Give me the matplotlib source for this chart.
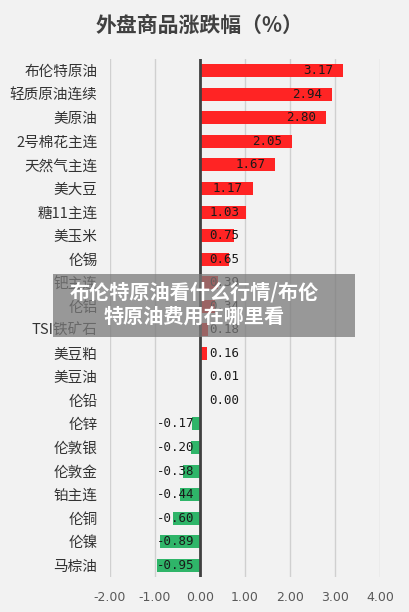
import matplotlib as mpl
import matplotlib.pyplot as plt
from matplotlib.patches import Rectangle

mpl.rcParams["font.family"] = ["Noto Sans CJK SC", "DejaVu Sans"]

TITLE = "外盘商品涨跌幅（%）"
BANNER = "布伦特原油看什么行情/布伦\n特原油费用在哪里看"

categories = [
    "布伦特原油", "轻质原油连续", "美原油", "2号棉花主连", "天然气主连",
    "美大豆", "糖11主连", "美玉米", "伦锡", "钯主连", "伦铝", "TSI铁矿石",
    "美豆粕", "美豆油", "伦铅", "伦锌", "伦敦银", "伦敦金", "铂主连",
    "伦铜", "伦镍", "马棕油",
]
values = [
    3.17, 2.94, 2.80, 2.05, 1.67, 1.17, 1.03, 0.75, 0.65, 0.39, 0.34, 0.18,
    0.16, 0.01, 0.00, -0.17, -0.20, -0.38, -0.44, -0.60, -0.89, -0.95,
]
xticks = [-2, -1, 0, 1, 2, 3, 4]

RED = "#ff2424"
GREEN = "#2fb569"
BG = "#f2f2f2"

fig = plt.figure(figsize=(4.10, 6.12), dpi=100, facecolor=BG)
ax = fig.add_axes([110 / 410, 1 - 577 / 612, 270 / 410, (577 - 59) / 612])
ax.set_facecolor(BG)

ypos = list(range(len(categories)))
colors = [RED if v >= 0 else GREEN for v in values]
ax.barh(ypos, values, height=0.55, color=colors, zorder=2)

for y, v in zip(ypos, values):
    if v >= 0:
        xc = max(v - 0.55, 0.55)
    else:
        xc = min(v + 0.55, -0.55)
    ax.text(xc, y, f"{v:.2f}", ha="center", va="center", fontsize=9,
            family="DejaVu Sans Mono", color="#1a1a1a", zorder=3)

ax.set_xlim(-2, 4)
ax.set_ylim(len(categories) - 0.5, -0.5)
ax.set_xticks(xticks)
ax.set_xticklabels([f"{t:.2f}" for t in xticks], fontsize=9, color="#595959",
                   family="DejaVu Sans")
ax.set_yticks(ypos)
ax.set_yticklabels(categories, fontsize=10.5, color="#333333")
ax.tick_params(length=0)
ax.tick_params(axis="y", pad=9)
ax.tick_params(axis="x", pad=10)
ax.grid(axis="x", color="#d0d0d0", linewidth=1, zorder=0)
ax.axvline(0, color="#404040", linewidth=2, zorder=4)
for s in ax.spines.values():
    s.set_visible(False)

fig.text(200 / 410, 1 - 25 / 612, TITLE, ha="center", va="center",
         fontsize=15, fontweight="bold", color="#404040")

# overlay banner
fig.patches.append(Rectangle((53 / 410, 1 - 337 / 612), 302 / 410, 63 / 612,
                             transform=fig.transFigure, facecolor="#7a7a7a",
                             alpha=0.75, edgecolor="none", zorder=10))
fig.text(194 / 410, 1 - 304 / 612, BANNER, ha="center", va="center",
         fontsize=14.5, fontweight="bold", color="white", linespacing=1.15,
         zorder=11)

fig.savefig("out.png", dpi=100, facecolor=BG)
